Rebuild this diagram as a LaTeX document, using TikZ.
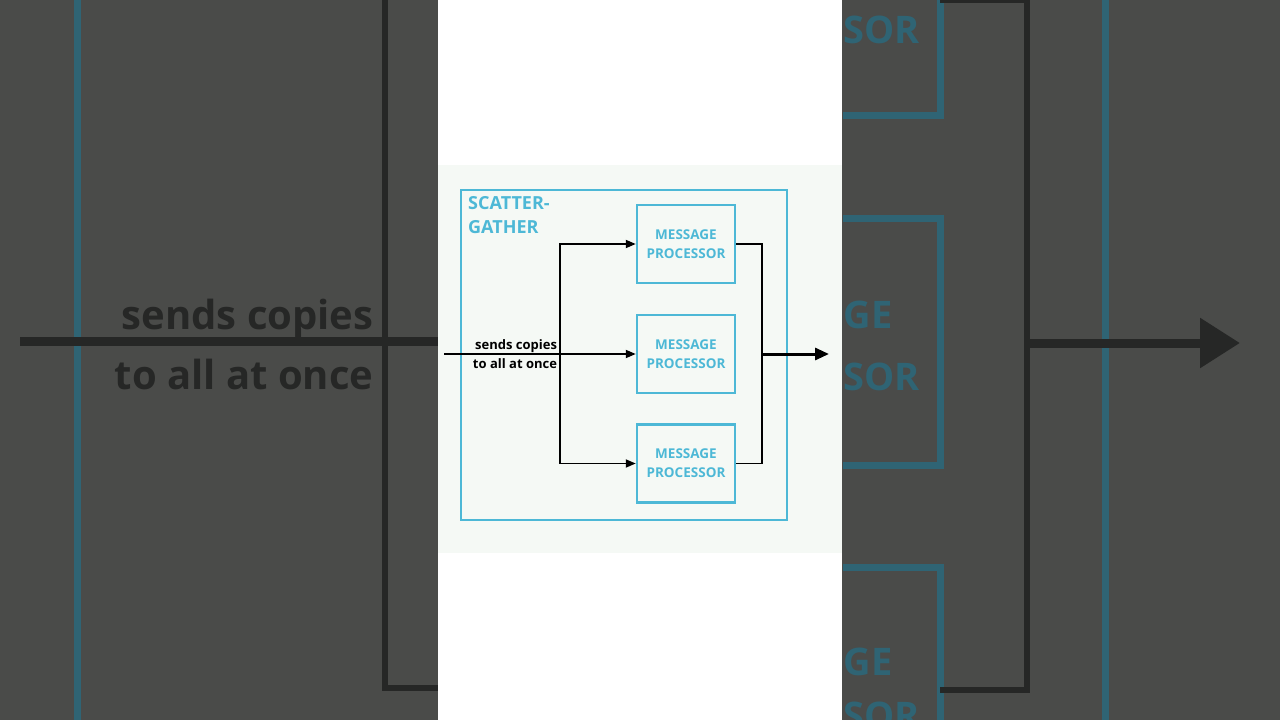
\documentclass[tikz,border=0pt]{standalone}
\usepackage{fontspec}
\setmainfont{Open Sans}
\usetikzlibrary{arrows.meta}
\definecolor{bg}{HTML}{4A4B49}
\definecolor{cy}{HTML}{4DB8D6}
\definecolor{dcy}{HTML}{2F6474}
\definecolor{dk}{HTML}{262726}
\definecolor{pan}{HTML}{F5F9F5}
\tikzset{
  mp/.style={draw=cy,line width=2.5pt,minimum width=98pt,minimum height=78pt,inner sep=0pt,
    font=\fontsize{13.5}{19}\selectfont\bfseries,text=cy,align=center},
  ln/.style={line width=1.8pt,draw=black},
  ar/.style={ln,-{Triangle[length=10pt,width=8pt]}},
  dl/.style={line width=6pt,draw=dk},
  big/.style={text=dcy,font=\fontsize{38}{40}\selectfont\bfseries,anchor=west},
}
\begin{document}
\begin{tikzpicture}[x=1pt,y=-1pt]
\useasboundingbox (0,0) rectangle (1280,720);
\fill[bg] (0,0) rectangle (1280,720);
% blurred left side
\draw[dcy,line width=7pt] (77,0) -- (77,720);
\draw[dl] (385,0) -- (385,688) -- (438,688);
\draw[dl,line width=9pt] (20,341) -- (438,341);
\node[anchor=east,align=right,text=dk,font=\fontsize{40}{60}\selectfont\bfseries] (lt) at (377,344) {sends copies\\to all at once};
% blurred right side
\draw[dcy,line width=7pt] (1105,0) -- (1105,720);
\draw[dcy,line width=7pt] (843,-10) -- (940,-10) -- (940,115) -- (843,115);
\draw[dcy,line width=7pt] (843,218) -- (940,218) -- (940,465) -- (843,465);
\draw[dcy,line width=7pt] (843,567) -- (940,567) -- (940,730);
\node[big] (s1) at (840,30) {SOR};
\node[big] (s2) at (840,315) {GE};
\node[big] (s3) at (840,377) {SOR};
\node[big] (s4) at (840,662) {GE};
\node[big] (s5) at (840,716) {SOR};
\draw[dl] (940,0) -- (1027,0) -- (1027,690) -- (940,690);
\draw[dl,line width=9pt,-{Triangle[length=40pt,width=48pt]}] (1027,343) -- (1240,343);
% centre panel
\fill[white] (438,0) rectangle (842,720);
\fill[pan] (438,165) rectangle (842,553);
\draw[cy,line width=2.5pt] (461,190) rectangle (787,520);
\node[anchor=north west,align=left,text=cy,inner sep=0pt,font=\fontsize{18}{24}\selectfont\bfseries] (t) at (468,196) {SCATTER-\\GATHER};
\node[mp] (m1) at (686,244) {MESSAGE\\PROCESSOR};
\node[mp] (m2) at (686,354) {MESSAGE\\PROCESSOR};
\node[mp] (m3) at (686,463.5) {MESSAGE\\PROCESSOR};
\coordinate (in) at (444,354);
\coordinate (sp) at (560,354);
\coordinate (j) at (762,354);
\coordinate (out) at (829,354);
\draw[ar] (in) -- (m2.west);
\draw[ar] (sp) |- (m1.west);
\draw[ar] (sp) |- (m3.west);
\draw[ln] (m1.east) -| (j) |- (m3.east);
\draw[ln,line width=3pt,-{Triangle[length=14pt,width=12pt]}] (j) -- (out);
\node[align=right,inner sep=0pt,font=\fontsize{13}{19}\selectfont\bfseries] (lab) at (515,354) {sends copies\\to all at once};
\end{tikzpicture}
\end{document}
